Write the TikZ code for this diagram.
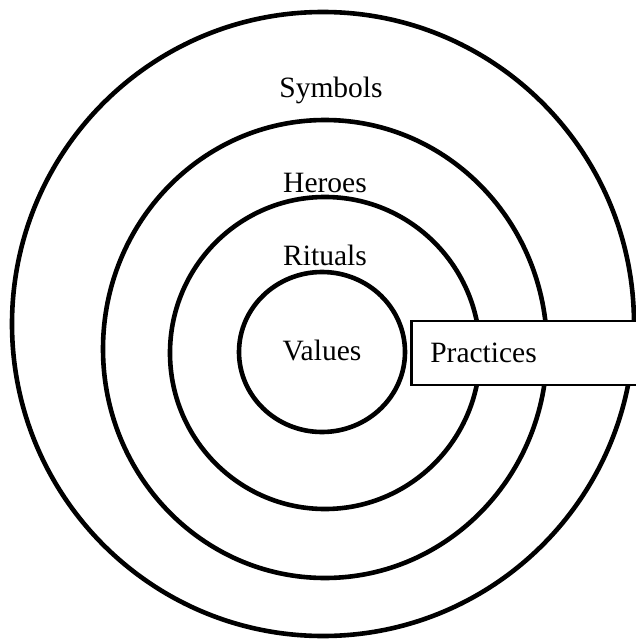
\documentclass[tikz,border=0pt]{standalone}
\usepackage{fontspec}
\setmainfont{Liberation Serif}
\usetikzlibrary{positioning}
\definecolor{ringblack}{HTML}{000000}

\begin{document}
\begin{tikzpicture}[x=1pt,y=-1pt,font=\fontsize{29.5}{34}\selectfont,
    ring/.style={line width=4.6pt,ringblack},
    practicebox/.style={draw,line width=2.6pt,fill=white,rectangle,inner xsep=19pt,
      minimum height=64pt,text width=192pt,align=left,anchor=west}]
        \useasboundingbox[fill=white] (0,0) rectangle (636,639);
        \draw[ring] (323,324) ellipse [x radius=311,y radius=312];
        \draw[ring] (325,349) ellipse [x radius=222,y radius=229];
        \draw[ring] (325,353) ellipse [x radius=155,y radius=156];
        \draw[ring] (322,352) ellipse [x radius=83,y radius=80];
        \node (symbols) at (331,90) {Symbols};
        \node (heroes) at (325,183) {Heroes};
        \node (rituals) at (325,255) {Rituals};
        \node (values) at (322,350) {Values};
        \node[practicebox] (practices) at (410,353) {Practices};
      \end{tikzpicture}
\end{document}
